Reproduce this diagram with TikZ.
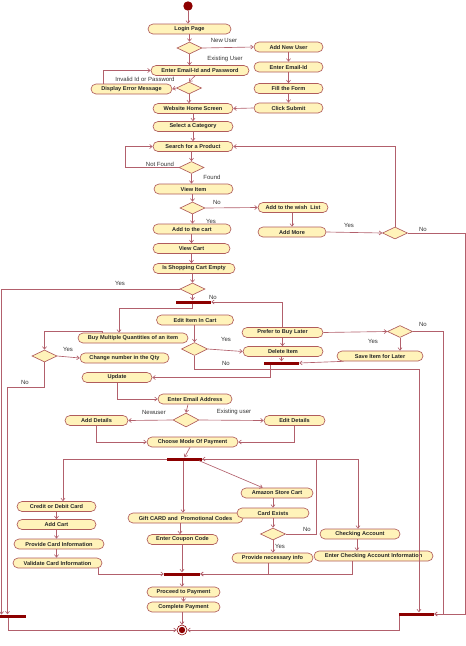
\documentclass[tikz,border=0pt]{standalone}
\usepackage{fontspec}
\setmainfont{Liberation Sans}
\usetikzlibrary{shapes.geometric,arrows.meta,calc}
\definecolor{boxfill}{RGB}{255,243,186}
\definecolor{boxdraw}{RGB}{176,92,92}
\definecolor{linec}{RGB}{178,96,108}
\definecolor{barc}{RGB}{140,0,0}
\begin{document}
\begin{tikzpicture}[x=1pt,y=-1pt,
  act/.style={draw=boxdraw, fill=boxfill, rounded corners=5pt, minimum height=10pt, inner sep=0pt,
    font=\fontsize{5.6}{6}\selectfont\bfseries, text=black!85, line width=0.65pt},
  dec/.style={diamond, draw=boxdraw, fill=boxfill, minimum width=25pt, minimum height=12pt, inner sep=0pt, line width=0.65pt},
  syncbar/.style={rectangle, fill=barc, minimum height=3pt, inner sep=0pt, draw=none},
  flow/.style={draw=linec, line width=0.65pt, -{Straight Barb[length=2.5pt,width=4pt]}},
  lbl/.style={font=\fontsize{6}{7}\selectfont, text=black!80, inner sep=0pt}]
\useasboundingbox (0,0) rectangle (466,646);

% nodes
\node[circle, fill=barc, minimum size=9.4pt, inner sep=0pt] (start) at (188,6) {};
\node[act, minimum width=83pt] (login) at (189.5,29) {Login Page};
\node[dec] (d1) at (189.5,48) {};
\node[act, minimum width=69pt] (addnew) at (288.5,47) {Add New User};
\node[act, minimum width=98pt] (emailpw) at (200,70.5) {Enter Email-Id and Password};
\node[act, minimum width=69pt] (emailid) at (288.5,67) {Enter Email-Id};
\node[dec] (d2) at (189,88) {};
\node[act, minimum width=81pt] (err) at (131.5,89) {Display Error Message};
\node[act, minimum width=69pt] (fillform) at (288.5,88.5) {Fill the Form};
\node[act, minimum width=69pt] (submit) at (288.5,108) {Click Submit};
\node[act, minimum width=80pt] (home) at (193,108.5) {Website Home Screen};
\node[act, minimum width=80pt] (cat) at (193,126.5) {Select a Category};
\node[act, minimum width=80pt] (search) at (193,146.5) {Search for a Product};
\node[dec] (d3) at (191.5,167.5) {};
\node[act, minimum width=79pt] (view) at (193.5,189) {View Item};
\node[dec] (d4) at (192.5,208) {};
\node[act, minimum width=70pt] (wish) at (293,207.5) {Add to the wish\ \ List};
\node[act, minimum width=78pt] (cart) at (192,229) {Add to the cart};
\node[act, minimum width=68pt] (more) at (292,232) {Add More};
\node[dec] (d5) at (395,233) {};
\node[act, minimum width=77pt] (viewcart) at (191.5,248.5) {View Cart};
\node[act, minimum width=82pt] (empty) at (194,268.5) {Is Shopping Cart Empty};
\node[dec] (d8) at (192.5,289) {};
\node[syncbar, minimum width=35pt] (bar1) at (193.5,302) {};
\node[act, minimum width=77pt] (edit) at (195,320) {Edit Item In Cart};
\node[act, minimum width=110pt] (buy) at (133,338) {Buy Multiple Quantities of an item};
\node[act, minimum width=81pt] (prefer) at (282.5,332.5) {Prefer to Buy Later};
\node[dec] (d6) at (400,331.5) {};
\node[dec, minimum width=26pt, minimum height=13pt] (d7) at (194.5,349) {};
\node[act, minimum width=80pt] (delete) at (283,351.5) {Delete Item};
\node[act, minimum width=86pt] (save) at (380,356) {Save Item for Later};
\node[syncbar, minimum width=35pt] (bar2) at (281.5,363) {};
\node[dec] (d9) at (44.5,356) {};
\node[act, minimum width=89pt] (qty) at (124.5,358) {Change number in the Qty};
\node[act, minimum width=70pt] (update) at (117,377.5) {Update};
\node[act, minimum width=74pt] (emailaddr) at (195,399) {Enter Email Address};
\node[dec, minimum width=26pt, minimum height=14pt] (d10) at (186,420) {};
\node[act, minimum width=63pt] (adddet) at (96.5,420.5) {Add Details};
\node[act, minimum width=61pt] (editdet) at (294.5,420.5) {Edit Details};
\node[act, minimum width=91pt] (choose) at (192.5,442) {Choose Mode Of Payment};
\node[syncbar, minimum width=35pt] (bar3) at (184.5,459) {};
\node[act, minimum width=79pt] (credit) at (56.5,506.5) {Credit or Debit Card};
\node[act, minimum width=79pt] (addcart) at (56.5,524.5) {Add Cart};
\node[act, minimum width=90pt] (provcard) at (59,544) {Provide Card Information};
\node[act, minimum width=89pt] (validate) at (57.5,563) {Validate Card Information};
\node[act, minimum width=115pt] (gift) at (185.5,518) {Gift CARD and\ \ Promotional Codes};
\node[act, minimum width=71pt] (coupon) at (182.5,539.5) {Enter Coupon Code};
\node[act, minimum width=72pt] (amazon) at (277,493) {Amazon Store Cart};
\node[act, minimum width=72pt] (exists) at (273,513) {Card Exists};
\node[dec] (d11) at (273,534) {};
\node[act, minimum width=81pt] (provinfo) at (272.5,558) {Provide necessary info};
\node[act, minimum width=80pt] (checking) at (360,534) {Checking Account};
\node[act, minimum width=119pt] (entercheck) at (373.5,556) {Enter Checking Account Information};
\node[syncbar, minimum width=36pt] (bar4) at (182,574) {};
\node[act, minimum width=73pt] (proceed) at (183.5,592) {Proceed to Payment};
\node[act, minimum width=73pt] (complete) at (183.5,607) {Complete Payment};
\node[circle, draw=barc, fill=white, minimum size=10pt, inner sep=0pt, line width=0.6pt] (final) at (182,630) {};
\fill[barc] (final.center) circle (3.2pt);
\node[syncbar, minimum width=35pt] (bar5) at (416.5,614) {};
\node[syncbar, minimum width=26pt] (bar6) at (13,616) {};

% connectors
\draw[flow] (start) -- (start |- login.north);
\draw[flow] (login.south -| d1.north) -- (d1.north);
\draw[flow] (d1.east) -- (addnew.west);
\draw[flow] (d1.south) -- (d1.south |- emailpw.north);
\draw[flow] ($(emailpw.south)+(-5,0)$) -- (d2.north);
\draw[flow] (d2.west) -- (err.east);
\draw[flow] ($(err.north west)+(13,0)$) |- (emailpw.west);
\draw[flow] (d2.south) -- (d2.south |- home.north);
\draw[flow] (addnew.south) -- (emailid.north);
\draw[flow] (emailid.south) -- (fillform.north);
\draw[flow] (fillform.south) -- (submit.north);
\draw[flow] (submit.west) -- (home.east);
\draw[flow] (home.south) -- (cat.north);
\draw[flow] (cat.south) -- (search.north);
\draw[flow] (d3.north |- search.south) -- (d3.north);
\draw[flow] (d3.west) -- (125,167.5) |- (search.west);
\draw[flow] (d3.south) -- (d3.south |- view.north);
\draw[flow] (d4.north |- view.south) -- (d4.north);
\draw[flow] (d4.east) -- (wish.west);
\draw[flow] (d4.south) -- (d4.south |- cart.north);
\draw[flow] (more.north |- wish.south) -- (more.north);
\draw[flow] (more.east) -- (d5.west);
\draw[flow] (d5.north) |- (search.east);
\draw[flow] (d5.east) -- (465,233) |- (bar5.east);
\draw[flow] (cart.south -| viewcart.north) -- (viewcart.north);
\draw[flow] (viewcart.south) -- (viewcart.south |- empty.north);
\draw[flow] (d8.north |- empty.south) -- (d8.north);
\draw[flow] (d8.west) -| (1.5,614.5);
\draw[flow] (d8.south) -- (d8.south |- bar1.north);
\draw[flow] ($(bar1.south)+(-1,0)$) -- ++(0,5) -| ($(buy.north)+(-14,0)$);
\draw[flow] (prefer.north) |- (bar1.east);
\draw[flow] (edit.south -| d7.north) -- (d7.north);
\draw[flow] (d7.east) -- (delete.west);
\coordinate (c7) at (419,369);
\draw[flow] (d7.south) |- (c7) -- (c7 |- bar5.north);
\draw[flow] (prefer.south) -- (prefer.south |- delete.north);
\draw[flow] (prefer.east) -- (d6.west);
\draw[flow] (d6.south) -- (d6.south |- save.north);
\draw[flow] (d6.east) -- (443,331.5) |- (bar5.east);
\draw[flow] (delete.south -| bar2.north) -- (bar2.north);
\draw[flow] ($(save.south west)+(7,0)$) -- (bar2.east);
\draw[flow] ($(bar2.south)+(-11.5,0)$) |- (update.east);
\draw[flow] ($(buy.north west)+(25,0)$) -- ++(0,-1.5) -| (d9.north);
\draw[flow] (d9.east) -- (qty.west);
\coordinate (c9) at (7.5,387);
\draw[flow] (d9.south) |- (c9) -- (c9 |- bar6.north);
\draw[flow] ($(bar6.south)+(-5,0)$) |- (final.west);
\draw[flow] (update.south) |- (emailaddr.west);
\draw[flow] ($(emailaddr.south)+(-7,0)$) -- (d10.north);
\draw[flow] (d10.west) -- (adddet.east);
\draw[flow] (d10.east) -- (editdet.west);
\draw[flow] (adddet.south) |- (choose.west);
\draw[flow] (editdet.south) |- (choose.east);
\draw[flow] ($(choose.south)+(-2.5,0)$) -- (bar3.north);
\draw[flow] (bar3.west) -| ($(credit.north)+(6.5,0)$);
\draw[flow] ($(bar3.south)+(-1.5,0)$) -- ($(gift.north)+(-2.5,0)$);
\draw[flow] ($(bar3.south east)+(-3,0)$) -- ($(amazon.north west)+(22,0)$);
\draw[flow] (bar3.east) -| ($(checking.north)+(-2,0)$);
\draw[flow] (d11.east) -- (316,534) |- (bar3.east);
\draw[flow] (credit.south) -- (addcart.north);
\draw[flow] (addcart.south) -- (addcart.south |- provcard.north);
\draw[flow] (addcart.south |- provcard.south) -- (addcart.south |- validate.north);
\draw[flow] ($(validate.south east)+(-4,0)$) |- (bar4.west);
\coordinate (gc) at ($(coupon.north)+(-2.5,0)$);
\draw[flow] (gc |- gift.south) -- (gc);
\draw[flow] (coupon.south -| bar4.north) -- (bar4.north);
\draw[flow] (exists.north |- amazon.south) -- (exists.north);
\draw[flow] (exists.south) -- (d11.north);
\draw[flow] (d11.south) -- (d11.south |- provinfo.north);
\draw[flow] ($(provinfo.south)+(-4.5,0)$) |- (bar4.east);
\coordinate (ck) at ($(checking.south)+(-3,0)$);
\draw[flow] (ck) -- (ck |- entercheck.north);
\draw[flow] ($(entercheck.south)+(-21.5,0)$) |- (bar4.east);
\draw[flow] (bar4.south) -- (bar4.south |- proceed.north);
\draw[flow] (proceed.south) -- (complete.north);
\draw[flow] (final.north |- complete.south) -- (final.north);
\draw[flow] ($(bar5.south west)+(0.5,0)$) |- (final.east);

% labels
\node[lbl] (l1) at (224,40) {New User};
\node[lbl] (l2) at (225,59) {Existing User};
\node[lbl] (l3) at (145,79) {Invalid Id or Password};
\node[lbl] (l4) at (160,164) {Not Found};
\node[lbl] (l5) at (212,177) {Found};
\node[lbl] (l6) at (217,202) {No};
\node[lbl] (l7) at (211,221) {Yes};
\node[lbl] (l8) at (349,225) {Yes};
\node[lbl] (l9) at (423,229) {No};
\node[lbl] (l10) at (120,283) {Yes};
\node[lbl] (l11) at (213,297) {No};
\node[lbl] (l12) at (423,324) {No};
\node[lbl] (l13) at (226,339) {Yes};
\node[lbl] (l14) at (373,341) {Yes};
\node[lbl] (l15) at (68,349) {Yes};
\node[lbl] (l16) at (226,363) {No};
\node[lbl] (l17) at (25,382) {No};
\node[lbl] (l18) at (154,412) {Newuser};
\node[lbl] (l19) at (234,412) {Existing user};
\node[lbl] (l20) at (307,529) {No};
\node[lbl] (l21) at (280,546) {Yes};
\end{tikzpicture}
\end{document}
